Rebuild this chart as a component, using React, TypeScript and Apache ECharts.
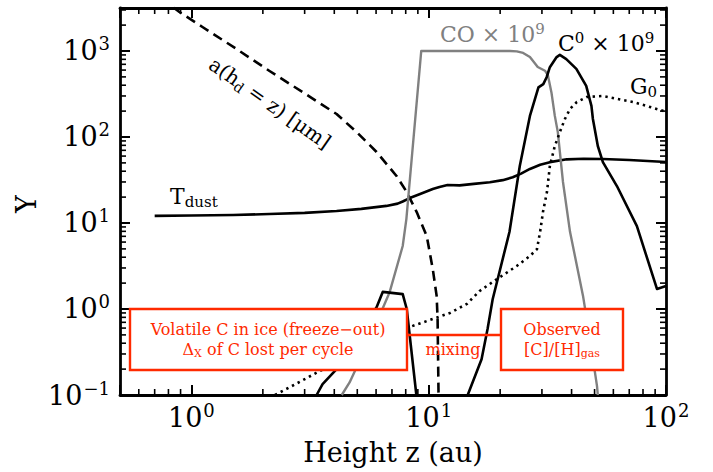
import React, { useEffect, useRef } from 'react';
import * as echarts from 'echarts';

// ---------- data ----------
const X_MIN = 0.5;
const X_MAX = 100;
const Y_MIN = 0.1;
const Y_MAX = 3162;

const tdustX = [0.70, 1.0, 1.5, 2.13, 3.0, 4.09, 5.2, 6.63, 7.4, 7.77, 8.32, 9.2, 10.4, 11.1, 12.0, 13.5, 15.5, 18.1, 20.5, 22.6, 24.5, 26.7, 29.5, 32.4, 38.2, 45, 54.2, 70, 100];
const tdustY = [12.1, 12.2, 12.4, 12.7, 13.1, 13.8, 14.6, 15.8, 16.8, 17.8, 19.5, 21.7, 24.8, 26.2, 27.7, 27.4, 28.5, 29.8, 31.5, 34.0, 37.5, 42.5, 47.5, 51, 55, 55.8, 55.5, 54, 51.2];

const grainX = [0.84, 0.89, 1.113, 1.548, 2.134, 2.94, 4.09, 4.97, 6.03, 7.33, 8.08, 8.9, 9.81, 10.4, 10.8, 10.9, 11.0];
const grainY = [3200, 2840, 1901, 1056, 585, 333, 185, 114, 67, 35, 22.9, 13.4, 7.06, 2.92, 1.42, 0.765, 0.1];

const coX = [4.30, 4.64, 5.47, 6.85, 7.77, 8.05, 9.3, 22.0, 23.5, 25.0, 26.7, 28.0, 28.8, 30.9, 31.8, 32.9, 34.0, 35.0, 36.8, 39.4, 44.7, 47.8, 51.2, 51.6];
const coY = [0.1, 0.14, 0.371, 1.58, 5.4, 11.1, 1000, 1000, 990, 950, 850, 720, 652, 590, 520, 330, 176, 114, 30, 7.9, 1.42, 0.448, 0.127, 0.1];

const c0LeftX = [3.37, 3.57, 4.09, 6.03, 6.40, 7.77, 8.08, 8.87];
const c0LeftY = [0.1, 0.134, 0.2, 1.05, 1.58, 1.49, 1.0, 0.1];

const c0RightX = [14.6, 16.7, 17.7, 18.6, 21.9, 24.2, 26.7, 29.0, 30.4, 31.4, 32.4, 34.6, 35.7, 38.0, 41.9, 46.1, 48.5, 49.2, 51.6, 54.2, 62.1, 75.4, 91.6, 100];
const c0RightY = [0.1, 0.26, 0.585, 1.3, 7.9, 46, 176, 378, 412, 495, 648, 850, 900, 805, 620, 393, 230, 162, 78.6, 51, 26.9, 9.2, 1.71, 1.85];

const g0X = [2.25, 2.86, 3.47, 8.32, 10.4, 12.3, 14.5, 16.4, 19.4, 23.5, 26.7, 28.6, 29.6, 30.3, 31.5, 32.4, 34.0, 35.7, 37.5, 39.4, 42.1, 46.4, 54.2, 72.8, 100];
const g0Y = [0.1, 0.142, 0.19, 0.618, 0.765, 0.9, 1.15, 1.62, 2.23, 3.16, 4.13, 4.98, 8.5, 13.4, 22.9, 46, 78.6, 114, 162, 212, 255, 292, 300, 255, 197];

const xMinorTicks = [0.6, 0.7, 0.8, 0.9, 2, 3, 4, 5, 6, 7, 8, 9, 20, 30, 40, 50, 60, 70, 80, 90];
const yMinorTicks = [0.2, 0.3, 0.4, 0.5, 0.6, 0.7, 0.8, 0.9, 2, 3, 4, 5, 6, 7, 8, 9, 20, 30, 40, 50, 60, 70, 80, 90, 200, 300, 400, 500, 600, 700, 800, 900, 2000, 3000];

// ---------- styling ----------
const FONT = "'DejaVu Serif', serif";
const RED = '#ff2a00';
const GRAY = '#808080';

const pair = (xs: number[], ys: number[]) => xs.map((x, i) => [x, ys[i]]);

const powLabel = (v: number) => {
  const e = Math.log10(v);
  const r = Math.round(e);
  if (Math.abs(e - r) > 1e-6) return '';
  return `{b|10}{s|${r < 0 ? '\u2212' + -r : r}}`;
};

const axisRich = {
  b: { fontFamily: FONT, fontSize: 27, color: '#000', lineHeight: 32 },
  s: { fontFamily: FONT, fontSize: 18, color: '#000', lineHeight: 14, verticalAlign: 'top', padding: [0, 0, 0, 1] },
};

const axisCommon = {
  type: 'log',
  logBase: 10,
  axisLine: { onZero: false, lineStyle: { color: '#000', width: 2.8 } },
  axisTick: { inside: true, length: 10, lineStyle: { color: '#000', width: 2 } },
  splitLine: { show: false },
  minorTick: { show: false },
};

const minorX = (params: any, api: any) => {
  const cs = params.coordSys;
  const px = api.coord([api.value(0), 1])[0];
  const st = { stroke: '#000', lineWidth: 1.6 };
  return {
    type: 'group',
    children: [
      { type: 'line', shape: { x1: px, y1: cs.y + cs.height, x2: px, y2: cs.y + cs.height - 6 }, style: st },
      { type: 'line', shape: { x1: px, y1: cs.y, x2: px, y2: cs.y + 6 }, style: st },
    ],
  };
};
const minorY = (params: any, api: any) => {
  const cs = params.coordSys;
  const py = api.coord([1, api.value(1)])[1];
  const st = { stroke: '#000', lineWidth: 1.6 };
  return {
    type: 'group',
    children: [
      { type: 'line', shape: { x1: cs.x, y1: py, x2: cs.x + 6, y2: py }, style: st },
      { type: 'line', shape: { x1: cs.x + cs.width, y1: py, x2: cs.x + cs.width - 6, y2: py }, style: st },
    ],
  };
};

const lineSeries = (name: string, data: number[][], color: string, type: any, width = 2.6) => ({
  name,
  type: 'line',
  data,
  showSymbol: false,
  symbol: 'none',
  clip: true,
  z: 5,
  lineStyle: { color, width, type, cap: 'butt', join: 'round' },
});

const mkRich = (size: number, fill: string) => ({
  a: { fontFamily: FONT, fontSize: size, lineHeight: size + 4, fill, color: fill },
  sup: { fontFamily: FONT, fontSize: Math.round(size * 0.68), lineHeight: Math.round(size * 0.55), verticalAlign: 'top', fill, color: fill },
  sub: { fontFamily: FONT, fontSize: Math.round(size * 0.68), lineHeight: Math.round(size * 0.6), verticalAlign: 'bottom', fill, color: fill },
});

const text = (x: number, y: number, t: string, rich: any, align = 'left', rotation = 0) => ({
  type: 'text',
  x,
  y,
  rotation,
  z: 120,
  style: {
    text: t,
    rich,
    fontFamily: FONT,
    align,
    textAlign: align,
    verticalAlign: 'middle',
    textVerticalAlign: 'middle',
  },
});

const option: any = {
  animation: false,
  backgroundColor: '#fff',
  grid: { left: 120, right: 47, top: 8, bottom: 77, outerBoundsMode: 'none' },
  xAxis: [
    {
      ...axisCommon,
      min: X_MIN,
      max: X_MAX,
      position: 'bottom',
      axisLabel: { formatter: powLabel, rich: axisRich, margin: 6, fontFamily: FONT },
    },
    {
      ...axisCommon,
      min: X_MIN,
      max: X_MAX,
      position: 'top',
      axisLabel: { show: false },
    },
  ],
  yAxis: [
    {
      ...axisCommon,
      min: Y_MIN,
      max: Y_MAX,
      position: 'left',
      axisLabel: { formatter: powLabel, rich: axisRich, margin: 10, fontFamily: FONT },
    },
    {
      ...axisCommon,
      min: Y_MIN,
      max: Y_MAX,
      position: 'right',
      axisLabel: { show: false },
    },
  ],
  series: [
    { type: 'custom', renderItem: minorX, data: xMinorTicks.map((v) => [v, 1]), silent: true, z: 6, clip: false },
    { type: 'custom', renderItem: minorY, data: yMinorTicks.map((v) => [1, v]), silent: true, z: 6, clip: false },
    lineSeries('Tdust', pair(tdustX, tdustY), '#000', 'solid'),
    lineSeries('grain', pair(grainX, grainY), '#000', [10, 6]),
    lineSeries('CO', pair(coX, coY), GRAY, 'solid', 2.4),
    lineSeries('C0a', pair(c0LeftX, c0LeftY), '#000', 'solid'),
    lineSeries('C0b', pair(c0RightX, c0RightY), '#000', 'solid'),
    lineSeries('G0', pair(g0X, g0Y), '#000', [2.4, 4], 2.6),
  ],
  graphic: [
    { type: 'rect', z: 100, shape: { x: 130, y: 309, width: 277, height: 61 }, style: { fill: '#fff', stroke: RED, lineWidth: 2.4 } },
    { type: 'rect', z: 100, shape: { x: 501, y: 309, width: 122, height: 61 }, style: { fill: '#fff', stroke: RED, lineWidth: 2.4 } },
    { type: 'line', z: 100, shape: { x1: 407, y1: 335, x2: 501, y2: 335 }, style: { stroke: RED, lineWidth: 2.4 } },
    text(268, 339, '{a|Volatile C in ice (freeze\u2212out)}\n{a|\u0394}{sub|X}{a| of C lost per cycle}', mkRich(16, RED), 'center'),
    text(562, 339, '{a|Observed}\n{a|[C]/[H]}{sub|gas}', mkRich(16, RED), 'center'),
    text(453, 349, '{a|mixing}', mkRich(16, RED), 'center'),
    text(440, 34, '{a|CO \u00d7 10}{sup|9}', mkRich(22, GRAY)),
    text(558, 43.5, '{a|C}{sup|0}{a| \u00d7 10}{sup|9}', mkRich(22, '#000')),
    text(630, 86.5, '{a|G}{sub|0}', mkRich(22, '#000')),
    text(170, 196.5, '{a|T}{sub|dust}', mkRich(22, '#000')),
    text(270, 103, '{a|a(h}{sub|d}{a| = z) [\u03bcm]}', mkRich(20, '#000'), 'center', -0.61),
    text(393, 452, '{a|Height z (au)}', mkRich(27, '#000'), 'center'),
    text(26, 204, '{a|Y}', mkRich(27, '#000'), 'center', Math.PI / 2),
  ],
};

export default function App() {
  const ref = useRef<HTMLDivElement>(null);
  useEffect(() => {
    document.body.style.margin = '0';
    const chart = echarts.init(ref.current as HTMLDivElement, null, { renderer: 'svg' });
    chart.setOption(option);
    return () => {
      chart.dispose();
    };
  }, []);
  return <div ref={ref} style={{ width: 713, height: 472 }} />;
}
